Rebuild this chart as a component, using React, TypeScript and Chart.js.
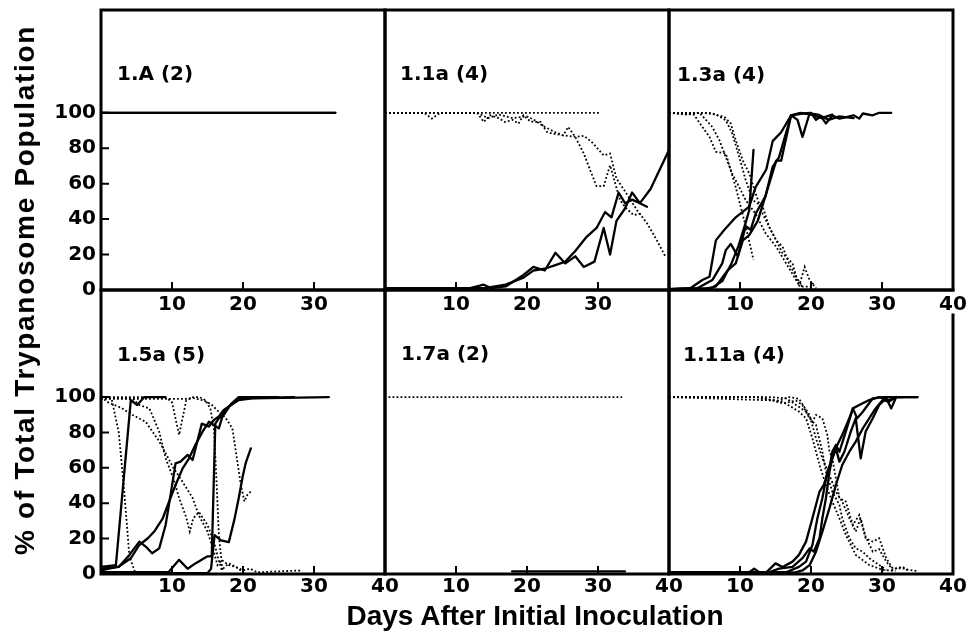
import React, { useEffect, useRef } from 'react';
import { Chart, registerables } from 'chart.js';

Chart.register(...registerables);

type Pt = [number, number];

// ---------- Panel 1.A (2) ----------
const A_sol1: Pt[] = [[0, 100], [33, 100]];
const A_sol2: Pt[] = [[0, 100], [33, 100]];

// ---------- Panel 1.1a (4) ----------
const B_dot1: Pt[] = [[0, 100], [30.3, 100]];
const B_dot2: Pt[] = [[0, 100], [5.5, 100], [6.6, 96.7], [7.8, 100], [13, 100], [13.9, 94.8], [14.8, 98.6], [16, 97], [16.9, 94.8], [18, 96], [18.8, 93.9], [19.5, 98.6], [20.5, 95], [21.9, 94.8], [22.8, 89.2], [23.5, 88.3], [25.1, 87.3], [25.8, 92], [26.8, 86.4], [28, 77], [28.9, 67.6], [29.8, 58.6], [30.8, 58.6], [31.7, 70.4], [33.1, 50.7], [34, 46], [35, 42.3], [36, 43]];
const B_dot3: Pt[] = [[0, 100], [13, 100], [14.5, 97], [16, 99], [18, 97], [20, 98], [21, 96], [22.5, 92], [24, 89], [25.1, 87.3], [26.8, 86.4], [28, 87], [29.1, 83.6], [30.8, 76], [31.7, 77], [32.6, 62.9], [34, 54.5], [35.5, 45], [36.9, 37.7], [38.3, 28], [39.5, 18.8]];
const B_sol1: Pt[] = [[0, 1], [12, 1], [13.9, 3], [15, 1], [17, 2], [19.5, 8.5], [20.9, 13], [22.5, 11], [24, 21], [25.4, 15], [26.8, 19], [28, 13], [29.5, 16], [30.8, 35], [31.7, 20], [32.6, 39], [33.8, 46], [34.8, 55], [35.9, 49], [36.9, 47]];
const B_sol2: Pt[] = [[0, 1], [14, 1], [17, 3], [19.5, 7], [20.9, 11], [22.5, 12], [24, 14], [25.4, 16], [26.8, 22], [28.4, 30], [29.8, 35], [31, 44], [31.9, 41], [32.9, 55], [33.8, 49], [34.8, 51], [35.9, 49], [37.4, 57], [40, 79]];

// ---------- Panel 1.3a (4) ----------
const C_sol1: Pt[] = [[0, 0.5], [3, 1], [4.7, 5.6], [5.7, 7.5], [6.6, 28], [7.8, 34], [9.4, 41], [11.3, 47], [12.2, 58], [13.7, 68], [14.6, 84], [15.8, 89], [17.2, 98.6], [18.8, 99.6], [20, 100], [20.7, 96], [21.4, 98], [22.1, 94], [23, 98.5], [24, 96.7], [25, 97.5], [26, 98.6], [26.8, 96.7], [27.3, 99.6], [28.7, 98.6], [29.6, 100], [31.3, 100]];
const C_sol2: Pt[] = [[0, 0.5], [4, 1], [6.1, 5.6], [7.5, 15], [8, 22.5], [8.7, 26], [9.7, 19], [10.8, 36], [11.5, 34], [12.2, 43], [13.6, 53], [14.6, 69.5], [15.5, 75], [17.2, 98.6], [18.1, 96], [18.8, 86.4], [19.8, 99.6], [21, 99], [22.5, 96], [24, 98], [26, 97]];
const C_sol3: Pt[] = [[0, 0.5], [5, 0.5], [6.6, 2], [8.25, 11], [9.4, 15], [10.4, 28], [11.3, 31], [12.5, 39], [13.7, 54.5], [15.1, 73], [15.8, 73], [17.2, 98.6], [18.5, 100], [20, 99], [21.5, 97], [23, 99]];
const C_sol4: Pt[] = [[0, 0.5], [6, 1], [7.5, 5], [8.8, 15], [9.8, 25], [10.8, 38], [11.3, 45], [11.9, 79]];
const C_dot1: Pt[] = [[0, 100], [3.5, 99], [4.7, 92], [5.7, 86.4], [6.6, 78], [8, 77], [9.4, 58], [10.8, 36], [11.9, 17]];
const C_dot2: Pt[] = [[0, 100], [2.4, 99], [4.3, 100], [5.2, 96], [6.1, 92], [7.1, 84.5], [8, 75], [8.9, 65.7], [9.9, 58], [10.8, 50.7], [12.2, 43], [13.6, 32], [15.1, 24.4], [16.5, 15], [17.9, 5.6], [18.8, 1.9]];
const C_dot3: Pt[] = [[0, 100], [4.7, 100], [6.6, 99], [8, 95.8], [8.9, 88.3], [9.9, 75], [10.8, 62], [11.8, 50.7], [13.2, 47], [14.1, 35.7], [15.1, 28], [16, 20.7], [17.4, 15], [18.3, 1.9], [19.1, 13], [19.8, 5.6], [20.7, 1]];
const C_dot4: Pt[] = [[0, 100], [5.7, 100], [7.8, 97.7], [8.7, 94], [9.4, 84.5], [10.4, 73], [11.3, 65.7], [12.2, 54.5], [13.2, 43], [14.1, 35.7], [15.1, 28], [16, 24.4], [16.9, 15], [17.9, 7.5], [18.8, 1.9], [20, 1.9], [20.3, 4]];

// ---------- Panel 1.5a (5) ----------
const D_sol1: Pt[] = [[0, 4], [2.1, 5], [4.2, 98.3], [5.1, 95.5], [6.1, 100], [9, 100]];
const D_sol2: Pt[] = [[0, 3], [2.5, 4], [4, 10.8], [5.4, 18.3], [6.3, 15.5], [7.2, 11.7], [8.2, 14.5], [9.1, 27.7], [9.8, 44.7], [10.5, 62.5], [11.2, 63.5], [12.2, 67.3], [12.9, 64.4], [14.2, 85], [15.2, 83.3], [15.9, 87], [16.6, 89], [17.3, 92.7], [18.3, 95.5], [19.4, 99.3], [27.2, 100]];
const D_sol3: Pt[] = [[0, 2], [2.5, 4.2], [4.2, 8.9], [5.4, 16.4], [6.6, 20.2], [7.5, 24], [8.7, 31.5], [9.6, 41], [10.5, 50.3], [11.5, 59.7], [12.4, 65.4], [13.3, 73], [14.3, 80.4], [15.2, 86], [15.9, 84.2], [16.6, 82.3], [17.3, 91.7], [18, 94.6], [19.4, 98.3], [21.3, 99.3], [32.1, 100]];
const D_sol4: Pt[] = [[0, 1], [9.5, 1], [11, 8], [12.2, 3], [13.3, 6], [15, 10], [15.6, 10], [16.1, 85], [16.6, 88], [17.3, 90], [18.3, 96], [19.4, 100], [25, 100]];
const D_sol5: Pt[] = [[0, 0.5], [15, 0.5], [15.5, 3], [16, 22], [16.9, 19], [18, 18], [18.8, 31], [19.4, 43], [20, 56], [20.4, 63], [21.1, 71]];
const D_dot1: Pt[] = [[0, 100], [1.5, 99], [2.5, 80], [3.2, 50], [4, 10], [4.8, 1], [8, 0.5]];
const D_dot2: Pt[] = [[0, 100], [1, 97], [2.8, 94], [4.4, 90], [6.3, 86], [8.2, 75], [10.2, 60], [11.5, 52], [12.9, 43], [13.8, 33], [15, 24], [15.9, 12.6], [16.4, 5], [17, 8], [18, 5], [19, 4], [20, 2], [21, 3], [22, 1], [28.3, 2]];
const D_dot3: Pt[] = [[0, 100], [4.5, 99], [5.4, 95.5], [6.8, 93.6], [7.2, 90], [8.2, 80.4], [9.1, 65.4], [10.2, 54], [11, 43], [12, 32], [12.5, 24], [13, 31.5], [13.8, 35], [15, 27.7], [15.9, 18.3], [16.5, 9], [17, 2.3], [18, 6], [19, 4], [20, 1]];
const D_dot4: Pt[] = [[0, 100], [9.1, 100], [10, 97], [11, 78.6], [12, 98], [13, 100], [13.8, 100], [14.7, 98.3], [15.4, 93.6], [15.9, 82], [16.3, 50], [16.6, 22], [17.1, 2.3]];
const D_dot5: Pt[] = [[0, 99], [8, 99], [12, 99], [13, 99.5], [14.5, 98], [15.5, 96], [16.5, 92], [17.6, 88], [18.5, 82.3], [19, 69], [19.7, 50.3], [20.2, 41], [20.6, 44.7], [21.1, 46.6]];

// ---------- Panel 1.7a (2) ----------
const E_dot1: Pt[] = [[0.5, 100], [33.4, 100]];
const E_sol1: Pt[] = [[17.9, 1.5], [33.8, 1.5]];

// ---------- Panel 1.11a (4) ----------
const F_dot1: Pt[] = [[0, 100], [11.8, 100], [16, 97.4], [18.3, 91.8], [19.3, 88], [20.2, 76.7], [21.2, 61.6], [22.1, 50.3], [23, 40.9], [24, 31.5], [24.9, 22.1], [26.3, 10.8], [28.2, 5.1], [30.1, 2.3], [31.9, 1.7]];
const F_dot2: Pt[] = [[0, 100], [14, 100], [16.5, 99.3], [17.9, 95.5], [19.3, 91.7], [20.2, 86.1], [20.7, 89.9], [21.6, 88], [22.3, 78.6], [22.6, 69.1], [23, 65.4], [23.5, 54.1], [24, 42.8], [24.9, 40.9], [25.9, 27.7], [26.8, 33.4], [27.7, 20.2], [28.7, 18.3], [29.6, 20.2], [30.6, 8.9], [31.5, 3.2], [32.9, 3.2], [33.8, 2.3], [35, 1.7]];
const F_dot3: Pt[] = [[0, 100], [15.5, 98], [16.9, 100], [18.3, 99], [19.8, 89.9], [20.7, 76.7], [21.6, 65.4], [22.6, 55.9], [23.5, 46.6], [24.4, 40.9], [25.4, 31.5], [26.3, 24], [27, 31.5], [27.7, 21], [28.7, 12.6], [29.6, 14], [30.6, 7], [31.5, 2.5], [32.9, 4.2], [33.8, 1.5]];
const F_dot4: Pt[] = [[0, 100], [13, 100], [16, 96.4], [17.9, 98], [18.8, 95.5], [19.8, 88], [20.7, 84.2], [21.6, 69.1], [22.1, 57.8], [23, 46.6], [24, 39], [24.4, 31.5], [25.4, 20.2], [26.3, 14.5], [27.3, 12.6], [28.2, 8.9], [29.6, 5.1], [30.6, 2.3]];
const F_sol1: Pt[] = [[0, 1], [11.3, 1], [12, 3], [12.7, 1], [13.6, 0.5], [15, 6], [16, 4], [17.4, 7], [18.3, 10.8], [19.3, 18.3], [20.2, 31.5], [21.2, 46.6], [21.8, 50.3], [22.6, 59.7], [23, 69.1], [23.5, 72.9], [24, 69.1], [24.9, 80.5], [25.9, 93.6], [26.5, 88], [27.3, 91.7], [28.7, 99.3], [30.1, 100], [35, 100]];
const F_sol2: Pt[] = [[0, 0.5], [14.1, 1], [15.5, 3], [17.4, 4], [18.8, 9], [19.8, 14.5], [20.4, 12.6], [21.2, 20.2], [21.6, 31.5], [22.1, 42.8], [22.6, 57.8], [23, 65.4], [23.5, 71], [24, 63.5], [24.7, 69.1], [25.6, 80.5], [26.3, 88], [27, 65.4], [27.7, 80.5], [28.7, 88], [29.6, 95.5], [30.6, 99.3], [31.3, 93.6], [32, 100], [33, 100]];
const F_sol3: Pt[] = [[0, 0.5], [16.5, 1], [18.3, 4], [19.3, 7], [20.2, 16.4], [20.9, 31.5], [21.6, 42.8], [22.3, 57.8], [23, 65.4], [23.7, 72.9], [24.4, 78.6], [25.4, 88], [25.9, 93.6], [26.8, 95.5], [28.2, 98.3], [29.6, 100], [31, 98.3], [31.9, 100], [35, 100]];
const F_sol4: Pt[] = [[0, 0.5], [17.9, 1], [18.8, 2], [19.8, 5], [20.7, 12.6], [21.6, 24], [22.6, 37.2], [23.5, 50.3], [24.4, 61.6], [25.4, 69.1], [26.3, 74.8], [27.3, 82.3], [28.2, 88], [29.1, 93.6], [30.1, 98.3], [31, 97.4], [32, 100]];

// ---------- Axis ticks ----------
const X_LABELS_SHORT = [10, 20, 30];
const X_LABELS_FULL = [10, 20, 30, 40];
const X_TICK_MARKS = [10, 20, 30];
const Y_LABELS = [0, 20, 40, 60, 80, 100];
const Y_TICK_MARKS = [20, 40, 60, 80, 100];

// ---------- Layout ----------
const COL_LEFT = [101, 385, 669];
const COL_W = 284;
const ROW_TOP = [10, 290];
const ROW_H = [280, 284];
const ROW_YMAX = [158, 160.5];
const PAD_T = 20;
const PAD_B = 30;
const PAD_R = 30;
const PAD_L = 20;

interface PanelSpec {
  label: string;
  col: number;
  row: number;
  solid: Pt[][];
  dotted: Pt[][];
  xLabels: number[];
  labelX: number;
  labelY: number;
  rightGap?: number;
}

const PANELS: PanelSpec[] = [
  { label: '1.A (2)', col: 0, row: 0, solid: [A_sol1, A_sol2], dotted: [], xLabels: X_LABELS_SHORT, labelX: 117, labelY: 71 },
  { label: '1.1a (4)', col: 1, row: 0, solid: [B_sol1, B_sol2], dotted: [B_dot1, B_dot2, B_dot3], xLabels: X_LABELS_SHORT, labelX: 400, labelY: 71 },
  { label: '1.3a (4)', col: 2, row: 0, solid: [C_sol1, C_sol2, C_sol3, C_sol4], dotted: [C_dot1, C_dot2, C_dot3, C_dot4], xLabels: X_LABELS_FULL, labelX: 677, labelY: 72 },
  { label: '1.5a (5)', col: 0, row: 1, solid: [D_sol1, D_sol2, D_sol3, D_sol4, D_sol5], dotted: [D_dot1, D_dot2, D_dot3, D_dot4, D_dot5], xLabels: X_LABELS_FULL, labelX: 117, labelY: 352 },
  { label: '1.7a (2)', col: 1, row: 1, solid: [E_sol1], dotted: [E_dot1], xLabels: X_LABELS_FULL, labelX: 401, labelY: 351 },
  { label: '1.11a (4)', col: 2, row: 1, solid: [F_sol1, F_sol2, F_sol3, F_sol4], dotted: [F_dot1, F_dot2, F_dot3, F_dot4], xLabels: X_LABELS_FULL, labelX: 683, labelY: 352, rightGap: 25 },
];

const TICK_FONT = { family: '"DejaVu Sans", sans-serif', weight: 'bold' as const, size: 20 };

const framePlugin = {
  id: 'panelFrame',
  afterDatasetsDraw(chart: any, _args: any, opts: any) {
    const { ctx, chartArea: a, scales } = chart;
    ctx.save();
    ctx.strokeStyle = '#000';
    ctx.lineWidth = 3;
    ctx.lineCap = 'square';
    ctx.beginPath();
    ctx.moveTo(a.left, a.top); ctx.lineTo(a.right, a.top);
    ctx.moveTo(a.left, a.bottom); ctx.lineTo(a.right, a.bottom);
    ctx.moveTo(a.left, a.top); ctx.lineTo(a.left, a.bottom);
    ctx.moveTo(a.right, a.top + (opts.rightGap || 0)); ctx.lineTo(a.right, a.bottom);
    ctx.stroke();
    ctx.lineWidth = 2;
    ctx.lineCap = 'butt';
    ctx.beginPath();
    for (const v of opts.xTickMarks || []) {
      const x = scales.x.getPixelForValue(v);
      ctx.moveTo(x, a.bottom); ctx.lineTo(x, a.bottom - 8);
    }
    for (const v of opts.yTickMarks || []) {
      const y = scales.y.getPixelForValue(v);
      ctx.moveTo(a.left, y); ctx.lineTo(a.left + 8, y);
    }
    ctx.stroke();
    ctx.restore();
  },
};

function toXY(p: Pt[]) {
  return p.map(([x, y]) => ({ x, y }));
}

function Panel({ spec }: { spec: PanelSpec }) {
  const ref = useRef<HTMLCanvasElement>(null);
  const isLeft = spec.col === 0;
  const leftSpace = isLeft ? COL_LEFT[0] : PAD_L;
  const cLeft = COL_LEFT[spec.col] - leftSpace;
  const cTop = ROW_TOP[spec.row] - PAD_T;
  const cW = leftSpace + COL_W + PAD_R;
  const cH = PAD_T + ROW_H[spec.row] + PAD_B;

  useEffect(() => {
    const datasets: any[] = [];
    spec.solid.forEach((s) => datasets.push({
      data: toXY(s), borderColor: '#000', borderWidth: 2.3, pointRadius: 0, tension: 0, fill: false,
      borderJoinStyle: 'round', borderCapStyle: 'round',
    }));
    spec.dotted.forEach((s) => datasets.push({
      data: toXY(s), borderColor: '#000', borderWidth: 1.8, borderDash: [1.8, 2.2], pointRadius: 0, tension: 0, fill: false,
    }));
    const chart = new Chart(ref.current as HTMLCanvasElement, {
      type: 'line',
      data: { datasets },
      plugins: [framePlugin],
      options: {
        responsive: false,
        animation: false,
        events: [],
        layout: { padding: { top: PAD_T, right: PAD_R, bottom: 0, left: isLeft ? 0 : PAD_L } },
        plugins: {
          legend: { display: false },
          tooltip: { enabled: false },
          panelFrame: { rightGap: spec.rightGap || 0, xTickMarks: X_TICK_MARKS, yTickMarks: isLeft ? Y_TICK_MARKS : [] },
        } as any,
        scales: {
          x: {
            type: 'linear', min: 0, max: 40,
            afterBuildTicks: (s: any) => { s.ticks = spec.xLabels.map((v) => ({ value: v })); },
            afterFit: (s: any) => { s.height = PAD_B; },
            grid: { display: false, drawTicks: false },
            border: { display: false },
            ticks: { color: '#000', font: TICK_FONT, padding: spec.row === 0 ? 3 : 1, maxRotation: 0, autoSkip: false },
          },
          y: {
            type: 'linear', min: 0, max: ROW_YMAX[spec.row],
            display: isLeft,
            afterBuildTicks: (s: any) => { s.ticks = Y_LABELS.map((v) => ({ value: v })); },
            afterFit: (s: any) => { s.width = isLeft ? COL_LEFT[0] : 0; },
            grid: { display: false, drawTicks: false },
            border: { display: false },
            ticks: { color: '#000', font: TICK_FONT, padding: 5, autoSkip: false },
          },
        } as any,
      },
    });
    return () => chart.destroy();
  }, []);

  return (
    <canvas
      ref={ref}
      width={cW}
      height={cH}
      style={{ position: 'absolute', left: cLeft, top: cTop, width: cW, height: cH }}
    />
  );
}

export default function App() {
  return (
    <div style={{ position: 'absolute', left: 0, top: 0, width: 967, height: 638, overflow: 'hidden', background: '#fff' }}>
      {PANELS.map((p) => <Panel key={p.label} spec={p} />)}
      {PANELS.map((p) => (
        <div
          key={'lbl' + p.label}
          style={{
            position: 'absolute', left: p.labelX, top: p.labelY - 10, lineHeight: '20px', whiteSpace: 'nowrap',
            font: 'bold 20px "DejaVu Sans", sans-serif', color: '#000',
          }}
        >{p.label}</div>
      ))}
      <div
        style={{
          position: 'absolute', left: 25, top: 290, transform: 'translate(-50%, -50%) rotate(-90deg)',
          whiteSpace: 'nowrap', font: 'bold 28px "Liberation Sans", Arial, sans-serif', letterSpacing: '1.7px',
          lineHeight: '28px', color: '#000',
        }}
      >% of Total Trypanosome Population</div>
      <div
        style={{
          position: 'absolute', left: 535, top: 602, transform: 'translateX(-50%)',
          whiteSpace: 'nowrap', font: 'bold 28px "Liberation Sans", Arial, sans-serif',
          lineHeight: '28px', color: '#000',
        }}
      >Days After Initial Inoculation</div>
    </div>
  );
}
